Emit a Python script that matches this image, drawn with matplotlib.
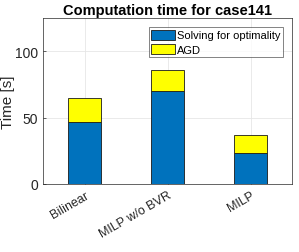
import matplotlib
matplotlib.use('Agg')
import matplotlib.pyplot as plt
import numpy as np

methods = ['Bilinear', 'MILP w/o BVR', 'MILP']
solving = [47, 70, 23.5]
agd = [18, 16.2, 13.5]

plt.rcParams['font.family'] = ['Liberation Sans', 'DejaVu Sans']

fig = plt.figure(figsize=(2.99, 2.53), dpi=100)
ax = fig.add_axes([43 / 299, 1 - 185 / 253, 249 / 299, 166 / 253])

x = np.arange(1, len(methods) + 1)
ax.bar(x, solving, width=0.4, color='#0072BD', edgecolor='#1a1a1a',
       linewidth=0.6, label='Solving for optimality', zorder=3)
ax.bar(x, agd, width=0.4, bottom=solving, color='#FFFF00', edgecolor='#1a1a1a',
       linewidth=0.6, label='AGD', zorder=3)

ax.set_xlim(0.5, 3.5)
ax.set_ylim(0, 125)
ax.set_yticks([0, 50, 100])
ax.set_xticks(x)
ax.set_xticklabels(methods, rotation=30, ha='right', rotation_mode='anchor')
ax.tick_params(labelsize=9, colors='#262626', direction='in', length=2.5, width=0.5)
ax.tick_params(axis='y', labelsize=10)
lab = ax.set_ylabel('Time [s]', fontsize=11, color='#262626')
lab.set_va('center')
ax.yaxis.set_label_coords(-0.14, 0.5)
ax.set_title('Computation time for case141', fontsize=10.5, fontweight='bold', pad=3)
ax.grid(True, color='#e6e6e6', linewidth=0.6, zorder=0)
for s in ax.spines.values():
    s.set_color('#262626')
    s.set_linewidth(0.5)

leg = ax.legend(loc='upper right', fontsize=8, frameon=True, fancybox=False,
                edgecolor='#262626', handlelength=2.1, handleheight=1.0,
                borderpad=0.25, labelspacing=0.3, handletextpad=0.2,
                borderaxespad=0.8)
leg.get_frame().set_linewidth(0.5)

fig.savefig('out.png', dpi=100)
